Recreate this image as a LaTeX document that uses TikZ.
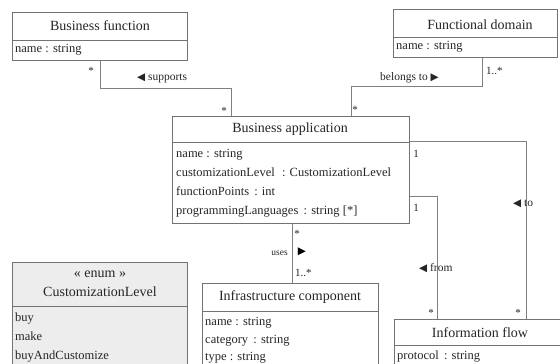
\documentclass[tikz,border=0pt]{standalone}
\usepackage{fontspec}
\setmainfont{Liberation Serif}
\newfontfamily\symfont{DejaVu Sans}
\usetikzlibrary{calc}
\newcommand{\ltri}{{\symfont\fontsize{10.5}{12}\selectfont ◀}}
\newcommand{\rtri}{{\symfont\fontsize{10.5}{12}\selectfont ▶}}
\begin{document}
\begin{tikzpicture}[x=1pt,y=-1pt,
  cls/.style={draw=black!55, line width=0.8pt, fill=white, anchor=north west,
    inner sep=0pt, minimum width=#1},
  sep/.style={draw=black!55, line width=0.8pt},
  ctitle/.style={font=\fontsize{14}{16}\selectfont, text=black!85, inner sep=0pt},
  attr/.style={font=\fontsize{12.5}{14}\selectfont, text=black!85, anchor=mid west, inner sep=0pt},
  link/.style={draw=black!50, line width=0.7pt},
  mult/.style={font=\fontsize{11}{12}\selectfont, text=black!85, anchor=base, inner sep=0pt},
  role/.style={font=\fontsize{11.5}{13}\selectfont, text=black!85, anchor=base west, inner sep=0pt}]
\useasboundingbox (0,0) rectangle (560,364);
\clip (0,0) rectangle (560,364);

% ---- classes ----
\node[cls=175, minimum height=48] (bf) at (12,12) {};
\draw[sep] ($(bf.north west)+(0,28)$) -- ($(bf.north east)+(0,28)$);
\node[ctitle] (bft) at (100,26) {Business function};
\node[attr] (bfa) at (15,50) {name : string};

\node[cls=164, minimum height=48] (fd) at (393,9) {};
\draw[sep] ($(fd.north west)+(0,28)$) -- ($(fd.north east)+(0,28)$);
\node[ctitle] (fdt) at (480,25) {Functional domain};
\node[attr] (fda) at (396,47) {name : string};

\node[cls=237, minimum height=107] (ba) at (172,116) {};
\draw[sep] ($(ba.north west)+(0,26)$) -- ($(ba.north east)+(0,26)$);
\node[ctitle] (bat) at (290,129) {Business application};
\node[attr] (ba1) at (176,155) {name : string};
\node[attr] (ba2) at (176,174) {customizationLevel\,\, : CustomizationLevel};
\node[attr] (ba3) at (176,193) {functionPoints\, : int};
\node[attr] (ba4) at (176,212) {programmingLanguages\, : string [*]};

\node[cls=175, minimum height=130, fill=black!7] (cl) at (12,262) {};
\draw[sep] ($(cl.north west)+(0,44)$) -- ($(cl.north east)+(0,44)$);
\node[ctitle] (clst) at (100,274) {« enum »};
\node[ctitle] (clt) at (100,292) {CustomizationLevel};
\node[attr] (cl1) at (15,319) {buy};
\node[attr] (cl2) at (15,338) {make};
\node[attr] (cl3) at (15,357) {buyAndCustomize};

\node[cls=176, minimum height=100] (ic) at (202,283) {};
\draw[sep] ($(ic.north west)+(0,28)$) -- ($(ic.north east)+(0,28)$);
\node[ctitle] (ict) at (290,297) {Infrastructure component};
\node[attr] (ic1) at (205,323) {name : string};
\node[attr] (ic2) at (205,341) {category\, : string};
\node[attr] (ic3) at (205,358) {type : string};

\node[cls=172, minimum height=60] (inf) at (394,319) {};
\draw[sep] ($(inf.north west)+(0,26)$) -- ($(inf.north east)+(0,26)$);
\node[ctitle] (inft) at (480,333) {Information flow};
\node[attr] (inf1) at (397,357) {protocol\, : string};

% ---- associations ----
\draw[link] ($(bf.south west)+(88,0)$) -- ++(0,28) -| ($(ba.north west)+(59,0)$);
\node[mult] (m1) at (91,74) {*};
\node[mult] (m2) at (224,114) {*};
\node[role] (r1) at (137,80) {\ltri\ supports};

\draw[link] ($(fd.south west)+(89,0)$) -- ++(0,29) -| ($(ba.north west)+(179,0)$);
\node[mult, anchor=base west] (m3) at (486,74) {1..*};
\node[mult] (m4) at (355,113) {*};
\node[role] (r2) at (380,80) {belongs to \rtri};

\draw[link] ($(ba.south west)+(120,0)$) -- ($(ic.north west)+(90,0)$);
\node[mult] (m5) at (297,237) {*};
\node[mult, anchor=base west] (m6) at (295,276) {1..*};
\node[role, anchor=base east, font=\fontsize{9.5}{11}\selectfont] (r3) at (288,255) {uses};
\node[inner sep=0pt] (r3t) at (302,252) {\rtri};

\draw[link] ($(ba.north east)+(0,25)$) -| ($(inf.north west)+(132,0)$);
\node[mult] (m7) at (416,157) {1};
\node[mult] (m8) at (518,316) {*};
\node[role] (r4) at (513,206) {\ltri\ to};

\draw[link] ($(ba.north east)+(0,80)$) -| ($(inf.north west)+(43,0)$);
\node[mult] (m9) at (416,211) {1};
\node[mult] (m10) at (431,316) {*};
\node[role] (r5) at (419,271) {\ltri\ from};
\end{tikzpicture}
\end{document}
